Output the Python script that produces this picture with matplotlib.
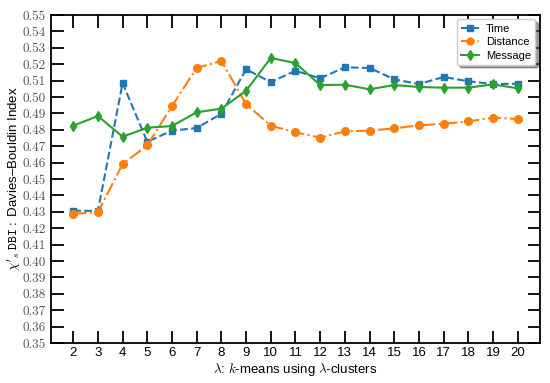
import matplotlib
matplotlib.use('Agg')
import matplotlib.pyplot as plt

plt.rcParams['font.family'] = ['Liberation Sans', 'DejaVu Sans']
plt.rcParams['mathtext.fontset'] = 'cm'

# 聚类数
clusters = [2, 3, 4, 5, 6, 7, 8, 9, 10, 11, 12, 13, 14, 15, 16, 17, 18, 19, 20]

# 三组 DBI 数值
time_dbi = [0.4307, 0.4305, 0.5085, 0.4727, 0.4795, 0.4811, 0.4898, 0.5169, 0.5091, 0.5160,
            0.5114, 0.5181, 0.5177, 0.5108, 0.5079, 0.5122, 0.5096, 0.5079, 0.5081]
distance_dbi = [0.4288, 0.4297, 0.4591, 0.4705, 0.4945, 0.5177, 0.5220, 0.4957, 0.4825, 0.4785,
                0.4752, 0.4791, 0.4795, 0.4809, 0.4827, 0.4837, 0.4851, 0.4874, 0.4866]
message_dbi = [0.4825, 0.4884, 0.4758, 0.4813, 0.4823, 0.4907, 0.4929, 0.5038, 0.5238, 0.5207,
               0.5073, 0.5075, 0.5047, 0.5073, 0.5061, 0.5057, 0.5057, 0.5077, 0.5053]

yticks = [0.35, 0.36, 0.37, 0.38, 0.39, 0.40, 0.41, 0.42, 0.43, 0.44, 0.45,
          0.46, 0.47, 0.48, 0.49, 0.50, 0.51, 0.52, 0.53, 0.54, 0.55]

fig = plt.figure(figsize=(5.5, 3.83), dpi=100)
ax = fig.add_axes([0.0927, 0.1044, 0.889, 0.8564])

ax.plot(clusters, time_dbi, color='#1f77b4', linestyle='--', marker='s', markersize=5, linewidth=1.5, label='Time')
ax.plot(clusters, distance_dbi, color='#ff7f0e', linestyle='-.', marker='o', markersize=5.5, linewidth=1.5, label='Distance')
ax.plot(clusters, message_dbi, color='#2ca02c', linestyle='-', marker='d', markersize=5.5, linewidth=1.5, label='Message')

ax.set_xlim(1.1, 20.9)
ax.set_ylim(0.35, 0.55)
ax.set_xticks(clusters)
ax.set_yticks(yticks)
ax.set_yticklabels(['%.2f' % v for v in yticks], fontfamily='cmr10', fontsize=9.5, color='#555555')

ax.tick_params(axis='both', direction='in', length=9, width=1.3, top=True, right=True)
ax.tick_params(axis='x', labelsize=9.5, pad=3)
for s in ax.spines.values():
    s.set_linewidth(1.3)

ax.set_xlabel(r'$\lambda$: $k$-means using $\lambda$-clusters', fontsize=9.5, labelpad=1)
ax.set_ylabel(r"$\chi'_s$ $\mathtt{DBI:}$ Davies–Bouldin Index", fontsize=9.5, labelpad=0)

ax.legend(loc='upper right', fontsize=8, shadow=True, fancybox=True, borderaxespad=0.4,
          handlelength=1.6, handletextpad=0.6, labelspacing=0.3, markerscale=0.9)

fig.savefig('out.png', dpi=100)
